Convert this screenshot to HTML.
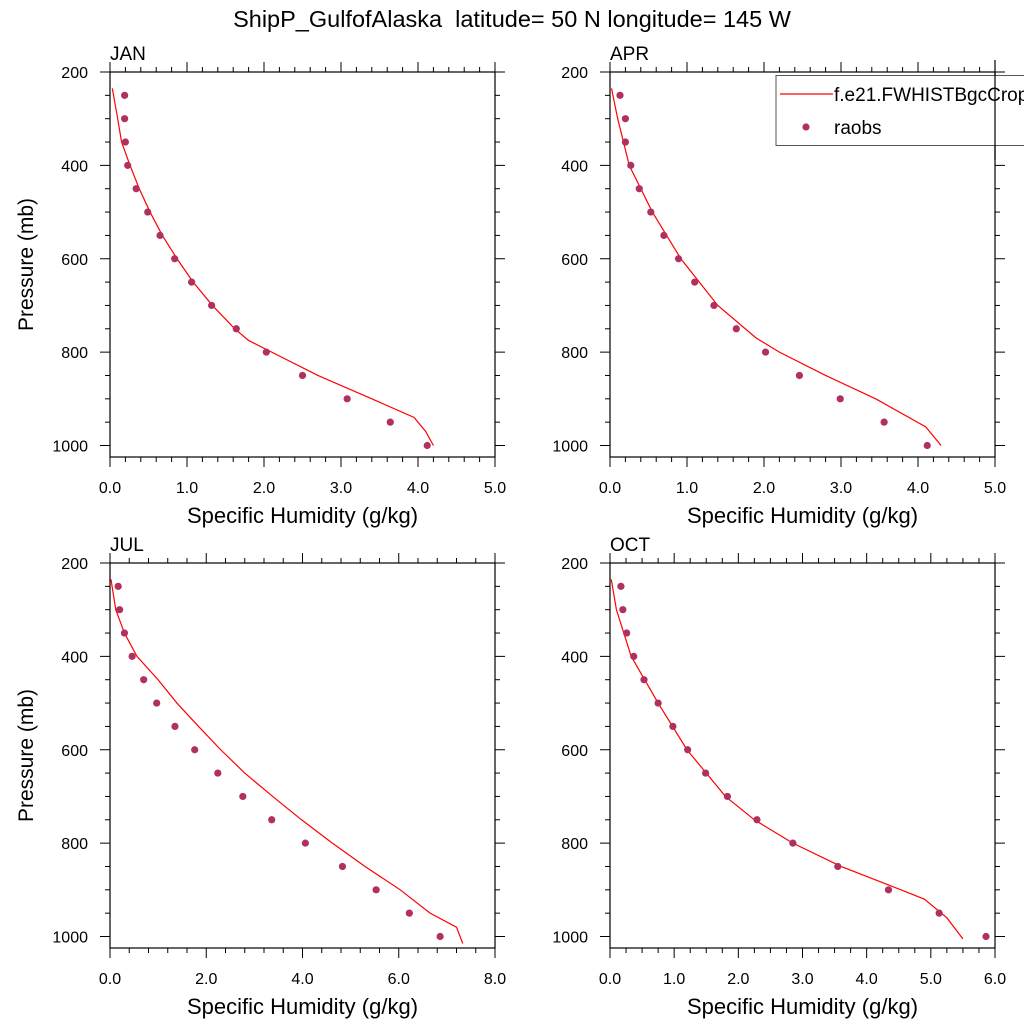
<!DOCTYPE html>
<html><head><meta charset="utf-8"><style>
body{margin:0;background:#fff}
svg{font-family:"Liberation Sans",sans-serif}
</style></head><body>
<svg id="c" width="1024" height="1024">
<text x="512" y="27" font-size="23.5" text-anchor="middle" xml:space="preserve">ShipP_GulfofAlaska  latitude= 50 N longitude= 145 W</text>
</svg>
<script>
const pressures=[250,300,350,400,450,500,550,600,650,700,750,800,850,900,950,1000];
const janObs=[0.19,0.19,0.2,0.23,0.34,0.49,0.65,0.84,1.06,1.32,1.64,2.03,2.5,3.08,3.64,4.12];
const janModelP=[235,300,350,400,450,500,550,600,650,700,750,775,800,850,900,940,970,1000];
const janModel=[0.03,0.1,0.15,0.26,0.38,0.52,0.68,0.87,1.08,1.33,1.62,1.8,2.1,2.7,3.4,3.95,4.1,4.2];
const aprObs=[0.13,0.2,0.2,0.27,0.38,0.53,0.7,0.89,1.1,1.35,1.64,2.02,2.46,2.99,3.56,4.12];
const aprModelP=[235,300,400,500,600,700,770,800,850,900,960,1000];
const aprModel=[0.02,0.1,0.25,0.55,0.92,1.4,1.9,2.2,2.8,3.45,4.1,4.3];
const julObs=[0.17,0.2,0.3,0.46,0.7,0.97,1.35,1.76,2.24,2.76,3.36,4.06,4.83,5.53,6.22,6.86];
const julModelP=[235,300,350,400,450,500,550,600,650,700,750,800,850,900,950,980,1015];
const julModel=[0.02,0.12,0.3,0.56,1.0,1.39,1.84,2.3,2.8,3.38,3.98,4.62,5.3,6.03,6.65,7.2,7.33];
const octObs=[0.17,0.2,0.26,0.37,0.53,0.75,0.98,1.21,1.49,1.83,2.29,2.85,3.55,4.34,5.13,5.86];
const octModelP=[235,300,400,500,600,700,750,800,850,890,920,960,1005];
const octModel=[0.02,0.1,0.33,0.75,1.2,1.8,2.25,2.85,3.6,4.35,4.9,5.25,5.5];
const yTicks=[200,400,600,800,1000];

const svg=document.getElementById('c');
const NS='http://www.w3.org/2000/svg';
function mk(t,a,parent){const e=document.createElementNS(NS,t);for(const k in a)e.setAttribute(k,a[k]);(parent||svg).appendChild(e);return e;}

const panels=[
 {name:'jan',label:'JAN',x0:110,y0:72,xmax:5,obs:janObs,mp:janModelP,mv:janModel,ylab:true},
 {name:'apr',label:'APR',x0:610,y0:72,xmax:5,obs:aprObs,mp:aprModelP,mv:aprModel,ylab:false},
 {name:'jul',label:'JUL',x0:110,y0:563,xmax:8,obs:julObs,mp:julModelP,mv:julModel,ylab:true},
 {name:'oct',label:'OCT',x0:610,y0:563,xmax:6,obs:octObs,mp:octModelP,mv:octModel,ylab:false}
];
const W=385, H=385;
panels.forEach(p=>{
 const g=mk('g',{});
 
 
 const X=v=>p.x0+v/p.xmax*W;
 const Y=v=>p.y0+(v-200)*(373.5/800);
 const bot=p.y0+H;
 mk('rect',{x:p.x0,y:p.y0,width:W,height:H,fill:'none',stroke:'#000','stroke-width':1.2},g);
 const t=mk('text',{x:p.x0,y:p.y0-12,'font-size':19},g);t.textContent=p.label;
 
 
 const minor=p.xmax==5?0.2:(p.xmax==8?0.4:0.25);
 const nMin=Math.round(p.xmax/minor);
 const step=p.xmax==5?1:(p.xmax==8?2:1);
 for(let i=0;i<=nMin;i++){
  const v=i*minor, x=X(v);
  const maj=Math.abs(v/step-Math.round(v/step))<1e-6;
  const L=maj?10:5;
  mk('line',{x1:x,y1:bot,x2:x,y2:bot+L,stroke:'#000','stroke-width':1},g);
  mk('line',{x1:x,y1:p.y0,x2:x,y2:p.y0-L,stroke:'#000','stroke-width':1},g);
  if(maj){const tl=mk('text',{x:x,y:bot+36,'font-size':16,'text-anchor':'middle'},g);tl.textContent=v.toFixed(1);
   
   }
 }
 for(let v=200;v<=1000;v+=50){
  const y=Y(v), maj=v%200==0, L=maj?10:5;
  mk('line',{x1:p.x0,y1:y,x2:p.x0-L,y2:y,stroke:'#000','stroke-width':1},g);
  mk('line',{x1:p.x0+W,y1:y,x2:p.x0+W+L,y2:y,stroke:'#000','stroke-width':1},g);
 }
 yTicks.forEach(v=>{const tl=mk('text',{x:p.x0-22,y:Y(v)+6,'font-size':16,'text-anchor':'end'},g);tl.textContent=v;
  
  });
 const xt=mk('text',{x:p.x0+W/2,y:bot+66,'font-size':22,'text-anchor':'middle'},g);xt.textContent='Specific Humidity (g/kg)';
 
 
 if(p.ylab){const yt=mk('text',{x:0,y:0,'font-size':21,'text-anchor':'middle',transform:`translate(33,${p.y0+H/2}) rotate(-90)`},g);yt.textContent='Pressure (mb)';
  
  }
 const line=mk('polyline',{points:p.mp.map((pp,i)=>X(p.mv[i])+','+Y(pp)).join(' '),fill:'none',stroke:'#ff0000','stroke-width':1.2},g);
 
 
 p.obs.forEach((v,i)=>{const c=mk('circle',{cx:X(v),cy:Y(pressures[i]),r:3.6,fill:'#b03060'},g);
  
  });
});
const lg=mk('g',{});


mk('rect',{x:776,y:75.5,width:260,height:70,fill:'#fff',stroke:'#555','stroke-width':1},lg);
mk('line',{x1:780,y1:94,x2:833,y2:94,stroke:'#ff0000','stroke-width':1.2},lg);
const l1=mk('text',{x:834,y:101,'font-size':19},lg);l1.textContent='f.e21.FWHISTBgcCrop';
mk('circle',{cx:806,cy:127,r:3.6,fill:'#b03060'},lg);
const l2=mk('text',{x:834,y:134,'font-size':19},lg);l2.textContent='raobs';
mk('line',{x1:995,y1:60,x2:995,y2:160,stroke:'#000','stroke-width':1.2});
</script>
</body></html>
